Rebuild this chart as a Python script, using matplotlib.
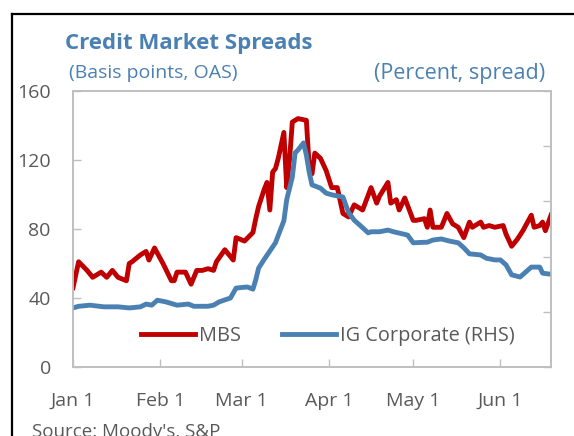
#Credit market spreads: MBS (left axis) vs IG corporate (right axis)
import numpy as np
import pandas as pd
import matplotlib
matplotlib.use("Agg")
import matplotlib.pyplot as plt
from matplotlib.lines import Line2D

plt.rcParams['font.family'] = ['Open Sans', 'DejaVu Sans']

start = pd.Timestamp('2020-01-01')

# MBS OAS, basis points (days after Jan 1, value)
mbs_days = [0, 2, 5, 7, 10, 12, 14, 16, 19, 20, 21, 24, 26, 27, 29, 32, 35, 36, 37, 40,
            42, 44, 46, 48, 50, 51, 54, 57, 58, 61, 64, 65, 66, 68, 69, 70, 71, 72, 73, 75,
            76, 77, 78, 80, 83, 84, 85, 86, 88, 90, 92, 94, 96, 98, 100, 101, 103, 106, 108, 109,
            112, 113, 115, 116, 118, 121, 122, 125, 126, 127, 128, 131, 133, 135, 137, 139, 141, 142, 145, 146,
            148, 150, 153, 154, 156, 158, 160, 163, 164, 166, 167, 168, 170]
mbs_vals = [46, 61, 56, 52, 55, 52, 56, 52, 50, 60, 61, 65, 67, 62, 69, 60, 50, 50, 55, 55,
            48, 56, 56, 57, 56, 61, 68, 62, 75, 73, 78, 86, 93, 103, 107, 91, 113, 115, 121, 136,
            104, 120, 142, 144, 143, 116, 112, 124, 121, 114, 104, 104, 89, 87, 94, 93, 91, 104, 95, 99,
            107, 95, 97, 91, 98, 85, 85, 86, 81, 91, 81, 81, 89, 83, 81, 75, 84, 81, 84, 81,
            82, 81, 82, 77, 70, 74, 79, 88, 81, 82, 84, 79, 88]

# IG corporate spread, percent
ig_days = [0, 2, 6, 11, 16, 20, 24, 26, 28, 30, 33, 37, 41, 43, 48, 50, 52, 56, 58, 62,
           64, 65, 66, 68, 72, 75, 76, 78, 79, 80, 82, 83, 84, 85, 88, 90, 92, 96, 98, 100,
           102, 105, 106, 109, 112, 114, 119, 121, 125, 126, 128, 131, 134, 137, 139, 141, 145, 147, 150, 152,
           154, 156, 159, 163, 166, 167, 170]
ig_vals = [1.07, 1.10, 1.12, 1.09, 1.09, 1.07, 1.09, 1.14, 1.12, 1.21, 1.18, 1.12, 1.14, 1.10, 1.10, 1.12, 1.18, 1.25, 1.43, 1.45,
           1.41, 1.58, 1.79, 1.95, 2.25, 2.65, 3.03, 3.44, 3.88, 3.93, 4.06, 3.84, 3.53, 3.30, 3.24, 3.15, 3.12, 3.08, 2.80, 2.66,
           2.57, 2.43, 2.45, 2.45, 2.48, 2.45, 2.39, 2.25, 2.26, 2.26, 2.30, 2.32, 2.28, 2.25, 2.16, 2.05, 2.03, 1.97, 1.94, 1.94,
           1.85, 1.67, 1.63, 1.81, 1.81, 1.70, 1.68]

month_ticks = ['2020-01-01', '2020-02-01', '2020-03-01', '2020-04-01', '2020-05-01', '2020-06-01']
month_labels = ['Jan 1', 'Feb 1', 'Mar 1', 'Apr 1', 'May 1', 'Jun 1']

red = '#C00000'
blue = '#4A80B2'
grey = '#595959'
spine = '#BFBFBF'

mbs_dates = start + pd.to_timedelta(mbs_days, unit='D')
ig_dates = start + pd.to_timedelta(ig_days, unit='D')

fig = plt.figure(figsize=(5.74, 4.36), dpi=100)
ax = fig.add_axes([73/574, 1-367/436, 478/574, 276/436])
ax2 = ax.twinx()

l1, = ax.plot(mbs_dates, mbs_vals, color=red, lw=3.5, solid_joinstyle='round')
l2, = ax2.plot(ig_dates, ig_vals, color=blue, lw=3.5, solid_joinstyle='round')

ax.set_xlim(start, start + pd.Timedelta(days=170))
ax.set_ylim(0, 160)
ax.set_yticks([0, 40, 80, 120, 160])
ax2.set_ylim(0, 5)
ax2.set_yticks([0, 1, 2, 3, 4, 5])

ax.set_xticks(pd.to_datetime(month_ticks))
ax.set_xticklabels(month_labels)

for a in (ax, ax2):
    for s in a.spines.values():
        s.set_color(spine)
        s.set_linewidth(1.2)
ax.tick_params(axis='y', direction='in', length=6, width=1, color=spine, labelcolor=grey, labelsize=14, pad=16)
ax.tick_params(axis='x', direction='in', length=6, width=1, color=spine, labelcolor=grey, labelsize=14, pad=18)
ax2.tick_params(axis='y', direction='in', length=6, width=1, color=spine, labelcolor=grey, labelsize=14, pad=16.5)

ax2.legend([l1, l2], ['MBS', 'IG Corporate (RHS)'], loc='center', bbox_to_anchor=(0.533, 0.112),
           ncol=2, frameon=False, fontsize=14.3, handlelength=2.7, handletextpad=0.2,
           columnspacing=2.1, labelcolor=grey)

fig.text(65/574, 1-43/436, 'Credit Market Spreads', color=blue, fontsize=16, fontweight='bold',
         va='center', ha='left')
fig.text(69/574, 1-73/436, '(Basis points, OAS)', color=blue, fontsize=14, va='center', ha='left')
fig.text(545/574, 1-73/436, '(Percent, spread)', color=blue, fontsize=15.5, va='center', ha='right')
fig.text(32/574, 1-432/436, "Source: Moody's, S&P", color=grey, fontsize=13.5, va='center', ha='left')

# frame of the surrounding panel
fig.add_artist(Line2D([12/574, 12/574], [0, 1-14/436], color='black', lw=1.6, transform=fig.transFigure))
fig.add_artist(Line2D([12/574, 1], [1-14/436, 1-14/436], color='black', lw=1.6, transform=fig.transFigure))

fig.savefig('out.png', dpi=100)
